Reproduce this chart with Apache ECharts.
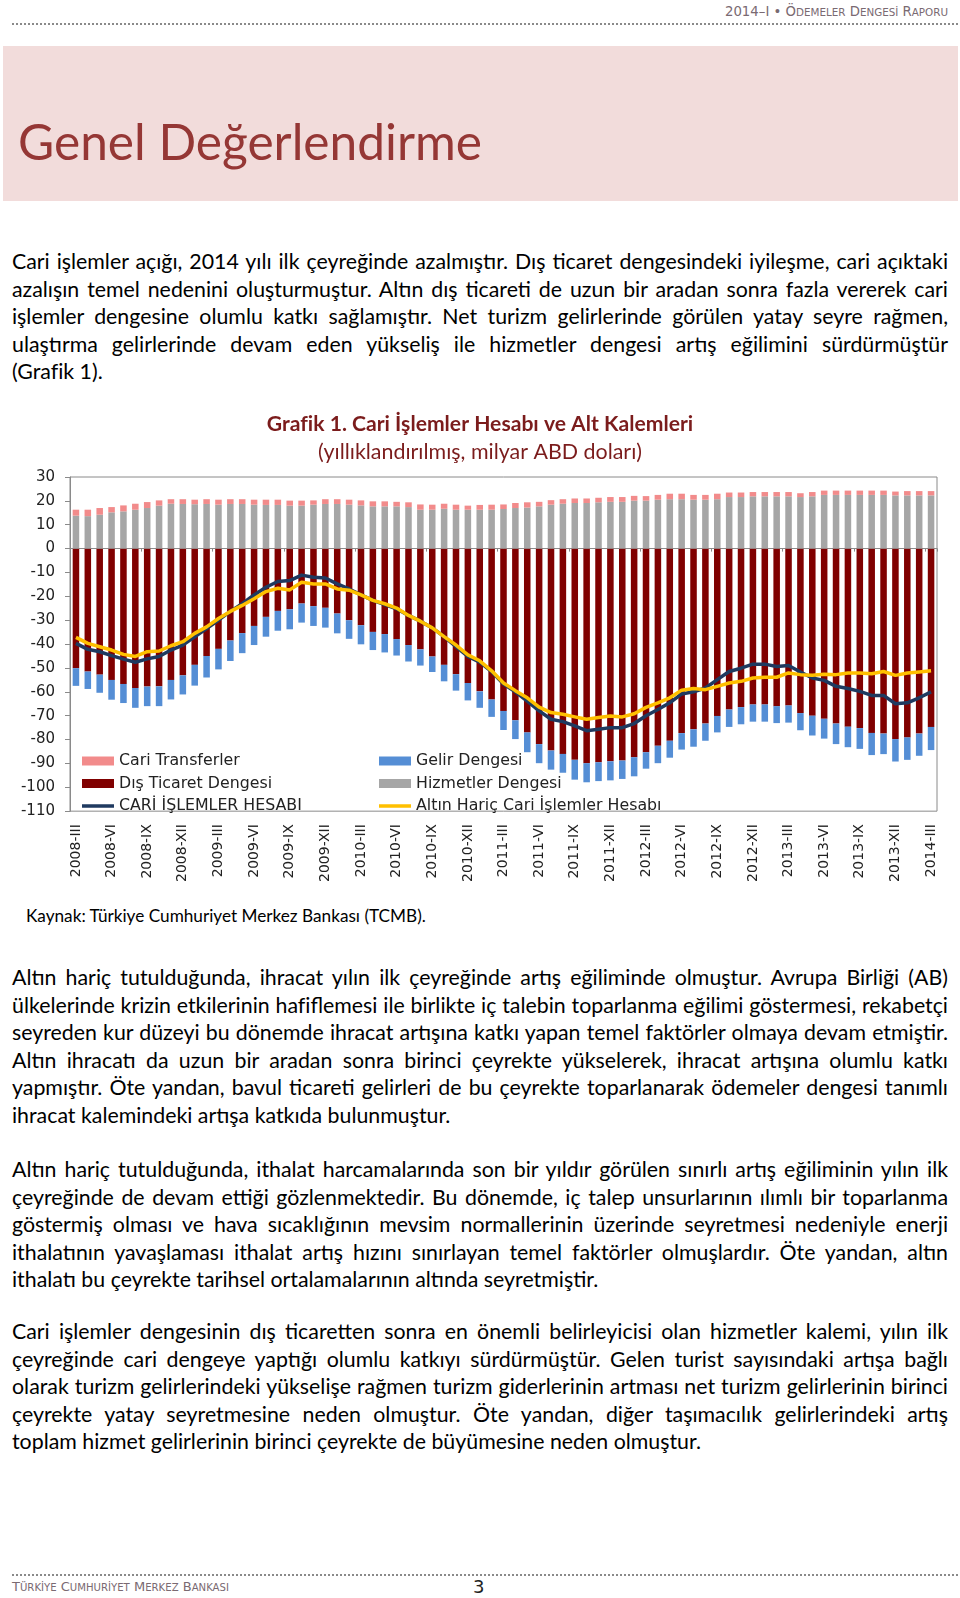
<!DOCTYPE html>
<html lang="tr"><head><meta charset="utf-8">
<script src="https://cdn.jsdelivr.net/npm/echarts@6.0.0/dist/echarts.min.js"></script>
<style>
html,body{margin:0;padding:0;background:#fff;}
body{width:960px;height:1598px;position:relative;overflow:hidden;font-family:Lato,"Noto Sans",sans-serif;color:#000;}
.abs{position:absolute;white-space:nowrap;}
.sc{font-family:"DejaVu Sans",sans-serif;color:#7a6a72;}
.sc span{font-size:0.78em;}
.rule{position:absolute;left:12px;width:946px;height:0;border-top:2px dotted #8a8a8a;}
#pink{position:absolute;left:3px;top:46px;width:955px;height:155px;background:#f2dcdb;}
.para{position:absolute;left:12px;width:936px;}
.ln{height:27.5px;line-height:27.5px;white-space:nowrap;overflow:visible;}
.j{text-align:justify;text-align-last:justify;}
#chart{position:absolute;left:0;top:395px;width:960px;height:490px;}
</style></head>
<body>
<div id="hdr" class="abs sc" style="top:3px;font-size:14px;line-height:18px;">2014–I • Ö<span>DEMELER</span> D<span>ENGESİ</span> R<span>APORU</span></div>
<div class="rule" style="top:23px;"></div>
<div id="pink"></div>
<div id="h1" class="abs" style="left:18px;top:111px;font-size:48px;line-height:60px;color:#953735;">Genel Değerlendirme</div>
<div id="p1" class="para" style="top:248px;"></div>
<div id="chart"></div>
<div id="src" class="abs" style="left:26px;top:905px;font-size:16px;line-height:22px;">Kaynak: Türkiye Cumhuriyet Merkez Bankası (TCMB).</div>
<div id="p2" class="para" style="top:964px;"></div>
<div id="p3" class="para" style="top:1156px;"></div>
<div id="p4" class="para" style="top:1318px;"></div>
<div class="rule" style="top:1574px;"></div>
<div id="ftr" class="abs sc" style="left:12px;top:1578px;font-size:14px;line-height:18px;">T<span>ÜRKİYE</span> C<span>UMHURİYET</span> M<span>ERKEZ</span> B<span>ANKASI</span></div>
<div id="pg" class="abs" style="left:473px;top:1575px;font-family:'DejaVu Sans';font-size:18px;line-height:24px;color:#222;">3</div>
<script>
// ---------- chart data ----------
const categories = [
 '2008-III','2008-IV','2008-V','2008-VI','2008-VII','2008-VIII','2008-IX','2008-X','2008-XI','2008-XII',
 '2009-I','2009-II','2009-III','2009-IV','2009-V','2009-VI','2009-VII','2009-VIII','2009-IX','2009-X','2009-XI','2009-XII',
 '2010-I','2010-II','2010-III','2010-IV','2010-V','2010-VI','2010-VII','2010-VIII','2010-IX','2010-X','2010-XI','2010-XII',
 '2011-I','2011-II','2011-III','2011-IV','2011-V','2011-VI','2011-VII','2011-VIII','2011-IX','2011-X','2011-XI','2011-XII',
 '2012-I','2012-II','2012-III','2012-IV','2012-V','2012-VI','2012-VII','2012-VIII','2012-IX','2012-X','2012-XI','2012-XII',
 '2013-I','2013-II','2013-III','2013-IV','2013-V','2013-VI','2013-VII','2013-VIII','2013-IX','2013-X','2013-XI','2013-XII',
 '2014-I','2014-II','2014-III'];
const cariTransferler = [2.5,2.7,2.8,2.2,2.5,2.5,2.5,2.2,1.9,2.0,1.9,2.0,2.1,2.0,2.0,2.1,2.2,2.2,2.1,2.1,1.8,2.0,2.0,2.1,
 2.1,2.1,2.1,1.9,2.0,2.2,2.1,2.1,2.1,1.7,2.0,2.1,1.9,2.1,2.2,1.9,1.9,1.9,1.9,1.9,1.9,2.0,2.0,2.0,1.9,
 2.0,2.3,2.3,2.0,2.0,2.3,1.9,1.9,1.8,1.8,1.8,1.8,1.6,1.8,1.8,1.8,1.8,1.8,1.8,1.8,1.6,1.8,1.8,1.8];
const hizmetlerDengesi = [13.8,13.6,14.2,15.2,15.6,16.3,17.0,18.0,18.8,18.7,18.6,18.7,18.4,18.7,18.7,18.4,18.3,18.3,18.0,18.0,18.4,18.7,18.7,18.4,
 18.1,17.7,17.7,17.7,17.4,16.3,16.3,16.7,16.3,16.3,16.3,16.3,16.6,17.0,17.2,17.7,18.4,18.8,19.1,19.1,19.4,19.6,19.6,20.1,20.1,
 20.5,20.7,20.7,20.5,20.5,20.7,21.6,21.6,21.9,21.9,21.9,21.9,21.6,21.9,22.5,22.5,22.5,22.5,22.5,22.5,22.3,22.3,22.3,22.3];
const disTicaretDengesi = [-50.1,-51.5,-52.8,-55.0,-56.7,-58.4,-57.8,-57.7,-55.0,-53.1,-48.7,-45.0,-42.0,-38.5,-35.4,-32.4,-28.6,-26.1,-25.4,-23.0,-24.1,-24.8,-27.2,-30.0,
 -32.1,-34.9,-35.8,-37.9,-40.4,-42.2,-45.2,-48.7,-52.6,-56.3,-59.8,-63.2,-68.0,-71.9,-77.0,-81.9,-84.6,-86.0,-88.5,-89.9,-89.5,-89.1,-88.8,-87.4,-85.3,
 -82.6,-80.5,-77.3,-75.7,-73.3,-70.1,-67.4,-66.4,-65.3,-65.3,-66.0,-65.7,-68.9,-70.0,-71.3,-73.3,-74.6,-75.2,-77.2,-77.5,-79.8,-79.1,-77.5,-74.7];
const gelirDengesi = [-7.4,-7.3,-7.6,-8.3,-8.0,-8.3,-8.2,-8.3,-8.2,-8.0,-8.7,-9.0,-8.6,-8.6,-8.4,-8.0,-8.3,-8.3,-8.4,-8.0,-8.3,-8.3,-8.3,-7.8,
 -8.0,-7.6,-7.7,-6.9,-6.9,-6.8,-6.5,-6.9,-6.9,-7.3,-6.9,-7.3,-8.0,-7.9,-8.3,-8.0,-8.0,-7.9,-8.3,-8.0,-7.9,-8.0,-7.7,-8.0,-6.9,
 -7.3,-7.1,-6.9,-7.3,-7.2,-6.9,-7.3,-7.2,-7.2,-7.2,-7.1,-7.2,-7.2,-8.3,-8.3,-8.6,-8.6,-8.7,-9.3,-8.6,-9.4,-9.4,-9.3,-9.7];
const cariIslemlerHesabi = [-39.7,-42.2,-43.2,-44.8,-46.3,-47.6,-46.2,-45.2,-42.5,-40.4,-37.0,-33.5,-30.0,-26.3,-23.1,-19.4,-16.2,-13.8,-13.4,-11.1,-12.0,-12.3,-14.8,-16.9,
 -19.4,-21.7,-23.5,-25.2,-28.0,-30.4,-33.2,-36.9,-41.1,-45.2,-47.6,-51.5,-56.7,-60.0,-63.9,-68.0,-71.5,-72.5,-74.3,-76.3,-75.7,-75.0,-75.0,-73.3,-70.0,
 -67.4,-64.6,-60.9,-60.0,-58.4,-54.9,-51.5,-50.1,-48.4,-48.4,-49.4,-49.0,-51.7,-54.2,-55.2,-57.7,-58.6,-59.8,-61.5,-61.5,-65.0,-64.6,-62.5,-60.0];
const altinHaricCari = [-37.2,-39.7,-41.1,-42.5,-44.3,-45.2,-43.2,-42.9,-40.7,-39.0,-35.5,-32.8,-29.3,-26.3,-23.8,-21.0,-18.0,-16.6,-17.3,-14.1,-14.8,-14.8,-16.9,-17.4,
 -19.4,-21.7,-23.1,-24.9,-28.0,-30.4,-33.2,-36.9,-40.4,-44.5,-47.0,-51.2,-56.3,-59.5,-62.5,-66.4,-68.7,-69.4,-70.5,-71.5,-70.8,-70.1,-70.5,-69.2,-66.5,
 -64.6,-62.5,-59.3,-58.6,-59.1,-57.7,-56.3,-55.6,-54.2,-53.9,-53.9,-52.1,-52.8,-53.1,-52.6,-52.8,-52.1,-52.1,-52.4,-51.5,-53.1,-52.1,-51.7,-51.2];
const seriesNames = ['Cari Transferler','Dış Ticaret Dengesi','CARİ İŞLEMLER HESABI','Gelir Dengesi','Hizmetler Dengesi','Altın Hariç Cari İşlemler Hesabı'];
const chartTitle = 'Grafik 1. Cari İşlemler Hesabı ve Alt Kalemleri';
const chartSubtitle = '(yıllıklandırılmış, milyar ABD doları)';

// ---------- page text ----------
const P1 = ['Cari işlemler açığı, 2014 yılı ilk çeyreğinde azalmıştır. Dış ticaret dengesindeki iyileşme, cari açıktaki',
'azalışın temel nedenini oluşturmuştur. Altın dış ticareti de uzun bir aradan sonra fazla vererek cari',
'işlemler dengesine olumlu katkı sağlamıştır. Net turizm gelirlerinde görülen yatay seyre rağmen,',
'ulaştırma gelirlerinde devam eden yükseliş ile hizmetler dengesi artış eğilimini sürdürmüştür',
'(Grafik 1).'];
const P2 = ['Altın hariç tutulduğunda, ihracat yılın ilk çeyreğinde artış eğiliminde olmuştur. Avrupa Birliği (AB)',
'ülkelerinde krizin etkilerinin hafiflemesi ile birlikte iç talebin toparlanma eğilimi göstermesi, rekabetçi',
'seyreden kur düzeyi bu dönemde ihracat artışına katkı yapan temel faktörler olmaya devam etmiştir.',
'Altın ihracatı da uzun bir aradan sonra birinci çeyrekte yükselerek, ihracat artışına olumlu katkı',
'yapmıştır. Öte yandan, bavul ticareti gelirleri de bu çeyrekte toparlanarak ödemeler dengesi tanımlı',
'ihracat kalemindeki artışa katkıda bulunmuştur.'];
const P3 = ['Altın hariç tutulduğunda, ithalat harcamalarında son bir yıldır görülen sınırlı artış eğiliminin yılın ilk',
'çeyreğinde de devam ettiği gözlenmektedir. Bu dönemde, iç talep unsurlarının ılımlı bir toparlanma',
'göstermiş olması ve hava sıcaklığının mevsim normallerinin üzerinde seyretmesi nedeniyle enerji',
'ithalatının yavaşlaması ithalat artış hızını sınırlayan temel faktörler olmuşlardır. Öte yandan, altın',
'ithalatı bu çeyrekte tarihsel ortalamalarının altında seyretmiştir.'];
const P4 = ['Cari işlemler dengesinin dış ticaretten sonra en önemli belirleyicisi olan hizmetler kalemi, yılın ilk',
'çeyreğinde cari dengeye yaptığı olumlu katkıyı sürdürmüştür. Gelen turist sayısındaki artışa bağlı',
'olarak turizm gelirlerindeki yükselişe rağmen turizm giderlerinin artması net turizm gelirlerinin birinci',
'çeyrekte yatay seyretmesine neden olmuştur. Öte yandan, diğer taşımacılık gelirlerindeki artış',
'toplam hizmet gelirlerinin birinci çeyrekte de büyümesine neden olmuştur.'];

function build(id, lines){
  const box=document.getElementById(id);
  lines.forEach((t,i)=>{
    const d=document.createElement('div');
    d.className='ln'+(i<lines.length-1?' j':'');
    d.textContent=t; box.appendChild(d);
  });
}
build('p1',P1);build('p2',P2);build('p3',P3);build('p4',P4);

function natW(text, font){
  const s=document.createElement('span');
  s.style.cssText='position:absolute;visibility:hidden;white-space:nowrap;font:'+font;
  s.textContent=text; document.body.appendChild(s);
  const w=s.getBoundingClientRect().width; s.remove(); return w;
}
const baseFs=20;
const bf=baseFs+'px Lato';
const r=[439/natW(P2[5],bf),588/natW(P3[4],bf),688/natW(P4[4],bf)];
const fs=baseFs*(r[0]+r[1]+r[2])/3;
document.querySelectorAll('.ln').forEach(el=>{
  el.style.fontSize=fs+'px';
  const w=natW(el.textContent, fs+'px Lato');
  if(w>934){ el.style.letterSpacing=(-(w-934)/el.textContent.length)+'px'; }
});
function fitEl(id, target){
  const el=document.getElementById(id);
  const w=el.getBoundingClientRect().width;
  const f=parseFloat(getComputedStyle(el).fontSize);
  el.style.fontSize=(f*target/w)+'px';
}
fitEl('h1',464); fitEl('src',400); fitEl('hdr',223); fitEl('ftr',217);
const hdr=document.getElementById('hdr'); hdr.style.left=(948-hdr.getBoundingClientRect().width)+'px';

const tfs=20*425/natW(chartTitle,'bold 20px Lato');
const sfs=20*323/natW(chartSubtitle,'20px Lato');

// thin line legend icon (box 32x9, 3.5px bar centred)
const lineIcon='path://M0,0h0.01v0.01h-0.01z M0,2.75h32v3.5h-32z M0,8.99h0.01v0.01h-0.01z';

const chart=echarts.init(document.getElementById('chart'),null,{renderer:'canvas'});
const axisFont={fontFamily:'DejaVu Sans',color:'#222'};
const legendBase={orient:'vertical',top:358,padding:0,itemWidth:32,itemHeight:9,itemGap:6.5,selectedMode:false,
  textStyle:Object.assign({fontSize:15.8,lineHeight:16},axisFont)};
chart.setOption({
  animation:false,
  title:[
    {text:chartTitle,left:'center',top:29-12,padding:0,textStyle:{fontFamily:'Lato',fontWeight:'bold',fontSize:tfs,lineHeight:24,color:'#7b1c1c'}},
    {text:chartSubtitle,left:'center',top:57.5-12,padding:0,textStyle:{fontFamily:'Lato',fontWeight:'normal',fontSize:sfs,lineHeight:24,color:'#7b1c1c'}}
  ],
  grid:{left:70,right:23,top:82,bottom:71,show:true,borderColor:'#8a8a8a',borderWidth:1,backgroundColor:'transparent'},
  legend:[
    Object.assign({left:82,data:[{name:seriesNames[0],icon:'rect'},{name:seriesNames[1],icon:'rect'},{name:seriesNames[2],icon:lineIcon}]},legendBase),
    Object.assign({left:379,data:[{name:seriesNames[3],icon:'rect'},{name:seriesNames[4],icon:'rect'},{name:seriesNames[5],icon:lineIcon}]},legendBase)
  ],
  xAxis:[
    {type:'category',data:categories,position:'bottom',axisLine:{onZero:true,lineStyle:{color:'#8a8a8a',width:1}},
     axisTick:{show:true,length:3,lineStyle:{color:'#8a8a8a'}},axisLabel:{show:false},splitLine:{show:false}},
    {type:'category',data:categories,position:'bottom',axisLine:{show:false},axisTick:{show:false},
     axisLabel:Object.assign({interval:2,rotate:90,margin:13,fontSize:14},axisFont),splitLine:{show:false}}
  ],
  yAxis:{type:'value',min:-110,max:30,interval:10,
    axisLine:{show:true,lineStyle:{color:'#8a8a8a'}},axisTick:{show:true,length:5,lineStyle:{color:'#8a8a8a'}},
    axisLabel:Object.assign({margin:15,fontSize:15},axisFont),splitLine:{show:false}},
  series:[
    {name:seriesNames[1],type:'bar',stack:'t',barWidth:'55%',data:disTicaretDengesi,itemStyle:{color:'#800000'}},
    {name:seriesNames[3],type:'bar',stack:'t',data:gelirDengesi,itemStyle:{color:'#558ed5'}},
    {name:seriesNames[4],type:'bar',stack:'t',data:hizmetlerDengesi,itemStyle:{color:'#a6a6a6'}},
    {name:seriesNames[0],type:'bar',stack:'t',data:cariTransferler,itemStyle:{color:'#f28b8b'}},
    {name:seriesNames[2],type:'line',data:cariIslemlerHesabi,symbol:'none',lineStyle:{color:'#1f3a60',width:3.5,join:'round'},itemStyle:{color:'#1f3a60'},z:3},
    {name:seriesNames[5],type:'line',data:altinHaricCari,symbol:'none',lineStyle:{color:'#ffc000',width:3.5,join:'round'},itemStyle:{color:'#ffc000'},z:4}
  ]
});
</script>
</body></html>
